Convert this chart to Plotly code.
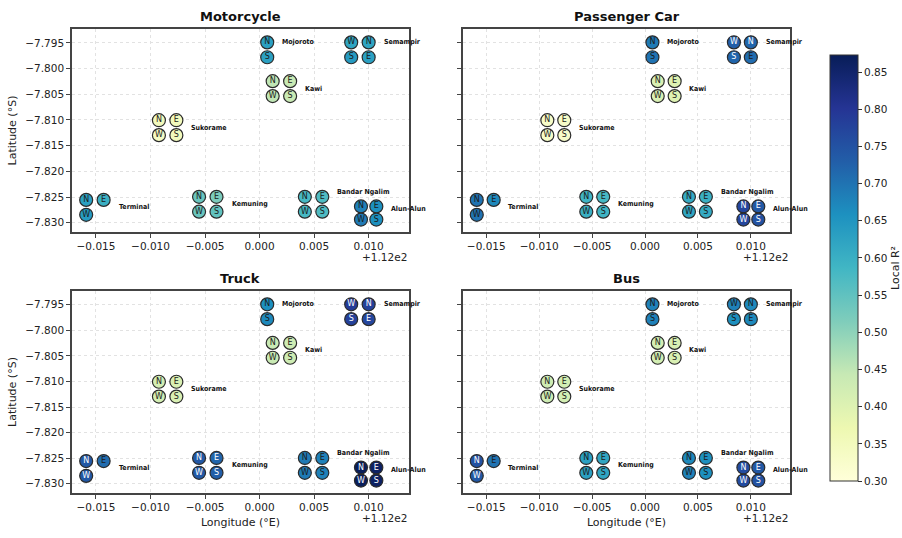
import plotly.graph_objects as go
from plotly.colors import sequential

# Intersection sites and their centre coordinates
sites = ["Mojoroto", "Semampir", "Kawi", "Sukorame", "Terminal",
         "Kemuning", "Bandar Ngalim", "Alun-Alun"]
site_lon = [112.0015, 112.0092, 112.0020, 111.99157, 111.9849,
            111.99525, 112.00495, 112.0100]
site_lat = [-7.79635, -7.79635, -7.8039, -7.8115, -7.8270,
            -7.8264, -7.8264, -7.8281]

# Approaches (legs) at each site
approaches = [["N", "S"], ["W", "N", "S", "E"], ["N", "E", "W", "S"],
              ["N", "E", "W", "S"], ["N", "E", "W"], ["N", "E", "W", "S"],
              ["N", "E", "W", "S"], ["N", "E", "W", "S"]]

# Local R² per approach, one list per vehicle class (same order as approaches)
motorcycle_r2 = [[0.63, 0.63], [0.62, 0.62, 0.64, 0.63], [0.45, 0.44, 0.45, 0.44],
                 [0.35, 0.35, 0.34, 0.35], [0.63, 0.60, 0.64], [0.54, 0.52, 0.54, 0.55],
                 [0.58, 0.57, 0.58, 0.57], [0.68, 0.66, 0.69, 0.66]]
passenger_car_r2 = [[0.69, 0.70], [0.73, 0.72, 0.72, 0.71], [0.41, 0.40, 0.41, 0.40],
                    [0.33, 0.33, 0.33, 0.33], [0.70, 0.67, 0.70], [0.59, 0.58, 0.60, 0.59],
                    [0.61, 0.60, 0.62, 0.61], [0.77, 0.74, 0.77, 0.75]]
truck_r2 = [[0.66, 0.67], [0.79, 0.78, 0.78, 0.77], [0.44, 0.43, 0.44, 0.43],
            [0.42, 0.41, 0.42, 0.41], [0.74, 0.71, 0.74], [0.74, 0.72, 0.74, 0.73],
            [0.69, 0.68, 0.69, 0.68], [0.873, 0.86, 0.87, 0.86]]
bus_r2 = [[0.68, 0.68], [0.68, 0.67, 0.66, 0.67], [0.42, 0.41, 0.42, 0.41],
          [0.43, 0.42, 0.43, 0.42], [0.75, 0.70, 0.74], [0.63, 0.62, 0.63, 0.62],
          [0.67, 0.66, 0.68, 0.66], [0.76, 0.74, 0.76, 0.75]]

panel_titles = ["Motorcycle", "Passenger Car", "Truck", "Bus"]
panel_values = [motorcycle_r2, passenger_car_r2, truck_r2, bus_r2]

x_ticks = [-0.015, -0.010, -0.005, 0.000, 0.005, 0.010]
y_ticks = [-7.795, -7.800, -7.805, -7.810, -7.815, -7.820, -7.825, -7.830]

# --- drawing helpers ---------------------------------------------------------
DX, DY = 0.0008, 0.00145
slot_default = {"N": (-1, 1), "E": (1, 1), "W": (-1, -1), "S": (1, -1)}
slot_override = {
    "Mojoroto": {"N": (-1, 1), "S": (-1, -1)},
    "Semampir": {"W": (-1, 1), "N": (1, 1), "S": (-1, -1), "E": (1, -1)},
}
spacing_scale = {"Alun-Alun": 0.88}
label_dy = {"Mojoroto": DY, "Semampir": DY, "Bandar Ngalim": DY + 0.001,
            "Alun-Alun": 0.0008}

W, H = 902, 538
def px_x(p):
    return p / W
def px_y(p):
    return 1 - p / H

x_domains = [(px_x(72), px_x(409)), (px_x(463), px_x(790))]
y_domains = [(px_y(232), px_y(29)), (px_y(493), px_y(291))]

colorscale = sequential.YlGnBu
CMIN, CMAX = 0.30, 0.873

fig = go.Figure()
annotations = []
FONT = "DejaVu Sans"
LABEL_FONT = "DejaVu Sans Condensed, Liberation Sans Narrow, Arial Narrow"

for i, (title, vals) in enumerate(zip(panel_titles, panel_values)):
    row, col = divmod(i, 2)
    ax = "" if i == 0 else str(i + 1)
    xs, ys, txt, cols, tcols = [], [], [], [], []
    for s, lon, lat, legs, v in zip(sites, site_lon, site_lat, approaches, vals):
        slots = slot_override.get(s, slot_default)
        k = spacing_scale.get(s, 1.0)
        right_x = -1e9
        for leg, val in zip(legs, v):
            sx, sy = slots[leg]
            x = lon + sx * DX * k
            y = lat + sy * DY * k
            xs.append(x)
            ys.append(y)
            txt.append(leg)
            cols.append(val)
            tcols.append("white" if val >= 0.72 else "#1a1a1a")
            right_x = max(right_x, x)
        annotations.append(dict(
            x=right_x + 0.0012, y=lat + label_dy.get(s, 0.0), xref="x" + ax, yref="y" + ax,
            text="<b>" + s + "</b>", showarrow=False, xanchor="left", yanchor="middle",
            font=dict(family=LABEL_FONT, size=7, color="#111")))
    fig.add_trace(go.Scatter(
        x=xs, y=ys, mode="markers+text", text=txt, textposition="middle center",
        textfont=dict(family=FONT, size=8, color=tcols),
        marker=dict(size=13, color=cols, coloraxis="coloraxis",
                    line=dict(color="#2b2b2b", width=1.2)),
        xaxis="x" + ax, yaxis="y" + ax, showlegend=False, hoverinfo="skip"))

    xd, yd = x_domains[col], y_domains[row]
    common = dict(showline=True, mirror=True, linecolor="#444", linewidth=1.5,
                  showgrid=True, gridcolor="#e2e2e2", griddash="dot", gridwidth=1,
                  zeroline=False, ticks="outside", ticklen=4, tickcolor="#444",
                  automargin=False,
                  tickfont=dict(family=FONT, size=10.5, color="#222"))
    fig.layout["xaxis" + ax] = dict(
        common, domain=list(xd), anchor="y" + ax, range=[111.9828, 112.0137],
        tickvals=[112 + t for t in x_ticks],
        ticktext=[f"{t:.3f}".replace("-", "\u2212") for t in x_ticks],
        title=dict(text="Longitude (°E)" if row == 1 else "",
                   font=dict(family=FONT, size=11, color="#222"), standoff=6))
    fig.layout["yaxis" + ax] = dict(
        common, domain=list(yd), anchor="x" + ax, range=[-7.8318, -7.7923],
        tickvals=y_ticks,
        ticktext=[f"{t:.3f}".replace("-", "\u2212") for t in y_ticks] if col == 0 else [""] * len(y_ticks),
        title=dict(text="Latitude (°S)" if col == 0 else "",
                   font=dict(family=FONT, size=11, color="#222"), standoff=6))
    # panel title
    annotations.append(dict(
        x=(xd[0] + xd[1]) / 2, y=yd[1], xref="paper", yref="paper", yshift=3,
        text="<b>" + title + "</b>", showarrow=False, xanchor="center", yanchor="bottom",
        font=dict(family=FONT, size=13, color="#111")))
    # axis offset note
    annotations.append(dict(
        x=xd[1], y=yd[0], xref="paper", yref="paper", yshift=-17,
        text="+1.12e2", showarrow=False, xanchor="right", yanchor="top",
        font=dict(family=FONT, size=10.5, color="#222")))

fig.update_layout(
    width=W, height=H, margin=dict(l=0, r=0, t=0, b=0, autoexpand=False),
    paper_bgcolor="white", plot_bgcolor="white",
    annotations=annotations,
    coloraxis=dict(
        colorscale=colorscale, cmin=CMIN, cmax=CMAX,
        colorbar=dict(
            x=px_x(830), xanchor="left", xpad=0, y=px_y(268), yanchor="middle",
            len=446, lenmode="pixels", thickness=28, thicknessmode="pixels",
            outlinecolor="#333", outlinewidth=1,
            tickvals=[0.30, 0.35, 0.40, 0.45, 0.50, 0.55, 0.60, 0.65, 0.70, 0.75, 0.80, 0.85],
            tickformat=".2f", ticks="outside", ticklen=4, tickcolor="#333",
            tickfont=dict(family=FONT, size=10.5, color="#222"),
            title=dict(text="Local R²", side="right",
                       font=dict(family=FONT, size=11, color="#222")))),
)

fig.write_html("out.html")
